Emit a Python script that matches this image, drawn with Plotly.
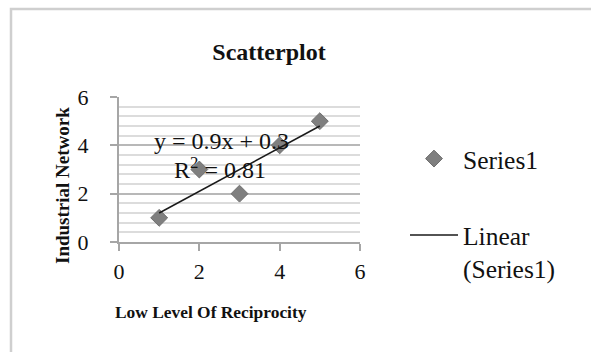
import numpy as np
import plotly.graph_objects as go

# ---- data ----
x_vals = [1, 2, 3, 4, 5]
y_vals = [1, 3, 2, 4, 5]
series_name = "Series1"
trend_name = "Linear<br>(Series1)"
title_text = "Scatterplot"
x_title = "Low Level Of Reciprocity"
y_title = "Industrial Network"
tick_vals = [0, 2, 4, 6]

slope, intercept = np.polyfit(x_vals, y_vals, 1)
pred = np.polyval([slope, intercept], x_vals)
r2 = 1 - np.sum((np.array(y_vals) - pred) ** 2) / np.sum((np.array(y_vals) - np.mean(y_vals)) ** 2)
trend_x = [min(x_vals), max(x_vals)]
trend_y = list(np.polyval([slope, intercept], trend_x))
eq_text = f"y = {slope:.1f}x + {intercept:.1f}"
r2_text = f"R<sup>2</sup> = {r2:.2f}"

W, H = 591, 352
L, R, T, B = 119, 360, 97, 242  # plot area in pixels
SERIF = "Liberation Serif"

fig = go.Figure()
fig.add_trace(go.Scatter(
    x=x_vals, y=y_vals, mode="markers", name=series_name,
    marker=dict(symbol="diamond", size=13, color="#7f7f7f",
                line=dict(color="#6e6e6e", width=1)),
    legend="legend",
))
fig.add_trace(go.Scatter(
    x=trend_x, y=trend_y, mode="lines", name=trend_name,
    line=dict(color="#1a1a1a", width=1.5),
    legend="legend2",
))

def px2paper_x(px):
    return (px - L) / (R - L)

def px2paper_y(py):
    return (B - py) / (B - T)

axis_common = dict(
    range=[0, 6], tickvals=tick_vals, ticks="outside", ticklen=7, tickwidth=2,
    tickcolor="#a6a6a6", showline=True, linewidth=2, linecolor="#a6a6a6",
    tickfont=dict(family=SERIF, size=22, color="#111111"), zeroline=False,
    fixedrange=True,
)

fig.update_xaxes(**axis_common, showgrid=False, ticklabelstandoff=2)
fig.update_yaxes(**axis_common, showgrid=True, gridcolor="#b8b8b8", gridwidth=2,
                 ticklabelstandoff=17,
                 minor=dict(dtick=0.4, showgrid=True, gridcolor="#dcdcdc", gridwidth=2))

fig.update_layout(
    width=W, height=H, autosize=False,
    margin=dict(l=L, r=W - R, t=T, b=H - B, pad=0),
    paper_bgcolor="white", plot_bgcolor="white",
    title=dict(text=f"<b>{title_text}</b>", xref="container", yref="container",
               x=269 / W, y=1 - 52 / H, xanchor="center", yanchor="middle",
               font=dict(family=SERIF, size=24, color="#111111")),
    legend=dict(xref="container", yref="container", x=405 / W, y=1 - 159 / H,
                xanchor="left", yanchor="middle", itemwidth=48,
                bgcolor="rgba(0,0,0,0)", borderwidth=0,
                font=dict(family=SERIF, size=25.5, color="#111111")),
    legend2=dict(xref="container", yref="container", x=405 / W, y=1 - 212 / H,
                 xanchor="left", yanchor="top", itemwidth=48, valign="top",
                 bgcolor="rgba(0,0,0,0)", borderwidth=0,
                 font=dict(family=SERIF, size=25.5, color="#111111")),
    showlegend=True,
)

fig.add_annotation(x=2.54, y=4.18, xref="x", yref="y", text=eq_text, showarrow=False,
                   xanchor="center", yanchor="middle",
                   font=dict(family=SERIF, size=24, color="#111111"))
fig.add_annotation(x=2.52, y=3.06, xref="x", yref="y", text=r2_text, showarrow=False,
                   xanchor="center", yanchor="middle",
                   font=dict(family=SERIF, size=24, color="#111111"))

fig.add_annotation(x=px2paper_x(211), y=px2paper_y(312), xref="paper", yref="paper",
                   text=f"<b>{x_title}</b>", showarrow=False,
                   xanchor="center", yanchor="middle",
                   font=dict(family=SERIF, size=17.4, color="#111111"))
fig.add_annotation(x=px2paper_x(62), y=px2paper_y(186), xref="paper", yref="paper",
                   text=f"<b>{y_title}</b>", showarrow=False, textangle=-90,
                   xanchor="center", yanchor="middle",
                   font=dict(family=SERIF, size=19, color="#111111"))

# chart frame
fig.add_shape(type="rect", xref="paper", yref="paper",
              x0=px2paper_x(11), x1=px2paper_x(640), y0=px2paper_y(400), y1=px2paper_y(9),
              line=dict(color="#cfcfcf", width=2.5), fillcolor="rgba(0,0,0,0)", layer="below")

fig.write_html("out.html")
